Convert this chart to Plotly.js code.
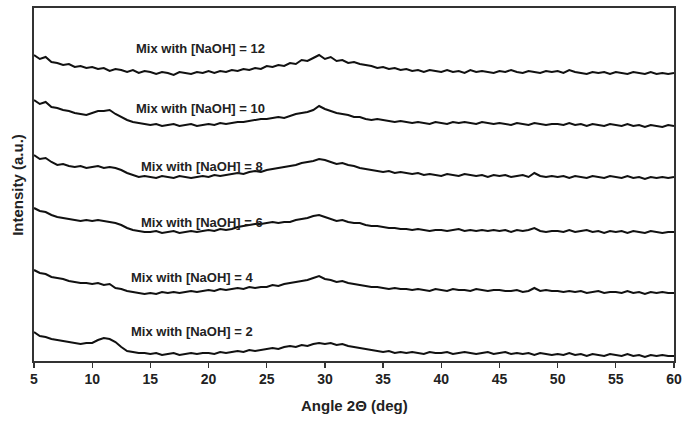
<!DOCTYPE html>
<html>
<head>
<meta charset="utf-8">
<script src="https://cdn.plot.ly/plotly-3.0.1.min.js"></script>
<style>html,body{margin:0;padding:0;background:#fff;}#chart{width:697px;height:423px;}</style>
</head>
<body>
<div id="chart"></div>
<script>
// Angle 2θ (deg), 0.5° steps
const angle = [
5,5.5,6,6.5,7,7.5,8,8.5,9,9.5,
10,10.5,11,11.5,12,12.5,13,13.5,14,14.5,
15,15.5,16,16.5,17,17.5,18,18.5,19,19.5,
20,20.5,21,21.5,22,22.5,23,23.5,24,24.5,
25,25.5,26,26.5,27,27.5,28,28.5,29,29.5,
30,30.5,31,31.5,32,32.5,33,33.5,34,34.5,
35,35.5,36,36.5,37,37.5,38,38.5,39,39.5,
40,40.5,41,41.5,42,42.5,43,43.5,44,44.5,
45,45.5,46,46.5,47,47.5,48,48.5,49,49.5,
50,50.5,51,51.5,52,52.5,53,53.5,54,54.5,
55,55.5,56,56.5,57,57.5,58,58.5,59,59.5,
60];

// Stacked intensities (arbitrary units, offset per pattern)
const naoh12 = [
306,302,304,299,298,296,297,294,295,293,
294,292,293,290,292,291,289,291,288,290,
289,287,289,288,286,289,288,287,289,288,
290,288,290,289,291,290,292,291,293,292,
295,294,296,295,298,297,301,300,303,306,
302,304,300,301,298,299,297,296,295,293,
294,292,293,291,292,290,291,289,291,290,
289,291,289,290,288,291,289,290,289,288,
290,289,291,289,288,290,289,288,290,289,
290,288,291,289,288,287,289,288,289,287,
289,288,287,289,288,287,289,287,288,287,
288];
const naoh10 = [
261,257,259,254,253,251,250,248,247,246,
248,250,250,251,247,244,241,239,238,237,
236,237,235,236,237,235,236,237,235,236,
237,236,238,237,238,239,239,240,241,242,
242,243,244,243,245,247,248,249,251,255,
252,250,248,247,246,244,244,242,241,242,
241,240,239,240,239,238,239,238,237,239,
238,237,239,238,239,238,237,239,238,237,
238,237,236,238,237,236,238,237,236,237,
237,236,238,236,237,235,237,236,235,237,
236,235,237,235,236,234,236,235,234,236,
235];
const naoh8 = [
206,202,203,199,196,197,195,194,195,193,
194,195,193,194,193,191,188,186,184,185,
184,183,185,184,183,185,184,183,184,185,
184,186,185,186,187,188,187,189,190,189,
191,192,193,194,195,196,198,199,200,202,
201,199,197,198,196,195,193,192,191,190,
189,190,188,189,188,187,188,186,187,186,
185,187,186,185,187,186,185,186,184,186,
185,186,184,185,186,184,188,185,184,185,
184,185,183,185,184,183,185,184,183,185,
184,183,185,183,184,182,184,183,184,183,
184];
const naoh6 = [
153,150,149,146,144,143,142,141,140,141,
140,141,140,139,138,136,133,131,130,129,
129,130,128,129,130,128,129,130,129,130,
131,130,132,131,132,134,135,136,137,137,
138,139,138,139,139,141,142,143,145,146,
144,142,140,141,139,138,138,136,135,135,
134,133,133,132,132,131,132,131,130,131,
131,130,131,132,130,131,130,131,130,131,
130,131,129,131,130,131,133,130,129,130,
130,129,131,129,130,131,129,130,128,130,
129,130,128,130,129,128,130,129,128,129,
129];
const naoh4 = [
91,88,87,84,83,82,80,79,78,78,
77,78,76,77,73,72,70,69,68,67,
68,67,69,68,69,68,69,70,69,70,
71,70,72,71,72,73,72,74,73,74,
74,76,75,77,78,79,80,81,83,85,
82,81,79,80,78,77,76,75,74,74,
73,72,73,72,72,71,72,71,70,72,
71,70,72,71,71,70,72,71,70,71,
71,70,70,71,69,70,73,70,71,70,
70,69,70,69,70,68,69,70,68,69,
69,68,70,68,69,67,69,68,69,68,
68];
const naoh2 = [
29,25,24,22,21,20,19,18,17,18,
18,21,23,22,19,14,10,9,8,8,
7,8,6,7,8,6,7,8,7,8,
8,7,9,8,9,10,9,11,10,11,
12,13,12,14,15,14,16,15,17,18,
17,18,16,17,15,14,13,12,11,10,
9,10,8,9,8,9,8,7,9,8,
8,9,7,8,9,8,7,8,9,7,
8,9,7,8,7,8,6,8,7,6,
7,6,8,6,7,5,7,6,5,7,
6,5,7,5,6,4,6,5,6,5,
5];

const seriesNames = ["Mix with [NaOH] = 12","Mix with [NaOH] = 10","Mix with [NaOH] = 8",
                     "Mix with [NaOH] = 6","Mix with [NaOH] = 4","Mix with [NaOH] = 2"];
const seriesData = [naoh12, naoh10, naoh8, naoh6, naoh4, naoh2];
// label anchor positions (angle, intensity)
const labelX = [19.3, 19.3, 19.4, 19.4, 18.6, 18.6];
const labelY = [313, 253, 195, 139, 84, 30];

const xTicks = [5,10,15,20,25,30,35,40,45,50,55,60];

const traces = seriesData.map((d, i) => ({
  x: angle, y: d, type: 'scatter', mode: 'lines', name: seriesNames[i],
  line: {color: '#111', width: 2}, showlegend: false, hoverinfo: 'skip'
}));

const FONT = 'Liberation Sans, Arial, sans-serif';
const annotations = seriesNames.map((s, i) => ({
  x: labelX[i], y: labelY[i], xref: 'x', yref: 'y', text: s, showarrow: false,
  font: {family: FONT, size: 13, color: '#222', weight: 'bold'},
  xanchor: 'center', yanchor: 'middle'
}));
annotations.push({
  x: 0.5, y: -0.125, xref: 'paper', yref: 'paper', text: 'Angle 2Θ (deg)', showarrow: false,
  font: {family: FONT, size: 15, color: '#222', weight: 'bold'},
  xanchor: 'center', yanchor: 'middle'
});
annotations.push({
  x: -0.026, y: 0.5, xref: 'paper', yref: 'paper', text: 'Intensity (a.u.)', showarrow: false,
  textangle: -90,
  font: {family: FONT, size: 15, color: '#222', weight: 'bold'},
  xanchor: 'center', yanchor: 'middle'
});

const layout = {
  width: 697, height: 423,
  margin: {l: 34, r: 23, t: 8, b: 62},
  paper_bgcolor: '#fff', plot_bgcolor: '#fff',
  xaxis: {
    range: [5, 60], tickvals: xTicks, ticktext: xTicks.map(String),
    ticks: 'outside', ticklen: 5, tickwidth: 1.2, tickcolor: '#333',
    showline: true, linecolor: '#333', linewidth: 1.6, mirror: true,
    showgrid: false, zeroline: false,
    tickfont: {family: FONT, size: 14, color: '#222', weight: 'bold'}
  },
  yaxis: {
    range: [0, 353], showticklabels: false, ticks: '',
    showline: true, linecolor: '#333', linewidth: 1.6, mirror: true,
    showgrid: false, zeroline: false
  },
  annotations: annotations
};

Plotly.newPlot('chart', traces, layout, {staticPlot: true, displayModeBar: false});
</script>
</body>
</html>
